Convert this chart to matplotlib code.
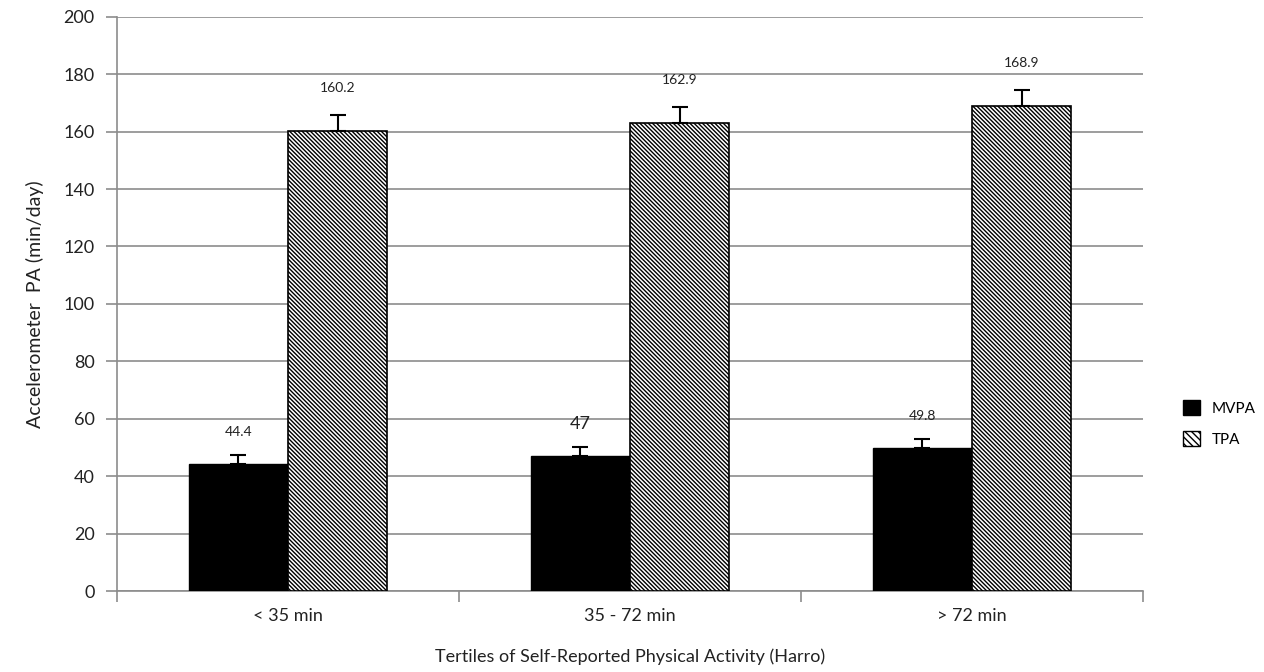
import numpy as np
from matplotlib import pyplot as plt
from matplotlib.patches import Patch

plt.rcParams['font.family'] = ['Lato', 'DejaVu Sans']
plt.rcParams['hatch.linewidth'] = 1.0

categories = ['< 35 min', '35 - 72 min', '> 72 min']
mvpa = [44.4, 47, 49.8]
tpa = [160.2, 162.9, 168.9]
mvpa_err = [3.0, 3.0, 3.0]
tpa_err = [5.7, 5.7, 5.5]
mvpa_labels = ['44.4', '47', '49.8']
tpa_labels = ['160.2', '162.9', '168.9']

fig = plt.figure(figsize=(12.64, 6.72), dpi=100)
ax = fig.add_axes([0.0926, 0.1205, 0.8116, 0.8545])

x = np.arange(len(categories))
w = 0.29
grey = '#8c8c8c'
txt = '#222222'
hatch = '\\' * 8

ax.bar(x - w / 2, mvpa, w, color='black', edgecolor='black', lw=1, zorder=3,
       yerr=[[0] * 3, mvpa_err], error_kw=dict(ecolor='black', capsize=6, lw=1.5, capthick=1.5))
ax.bar(x + w / 2, tpa, w, color='white', edgecolor='black', hatch=hatch, lw=1.2, zorder=3,
       yerr=[[0] * 3, tpa_err], error_kw=dict(ecolor='black', capsize=6, lw=1.5, capthick=1.5))

for i in range(len(categories)):
    fs = 13 if mvpa_labels[i] == '47' else 10
    ax.text(x[i] - w / 2, mvpa[i] + 11, mvpa_labels[i], ha='center', va='center', fontsize=fs, color=txt)
    ax.text(x[i] + w / 2, tpa[i] + 15, tpa_labels[i], ha='center', va='center', fontsize=10, color=txt)

ax.set_xlim(-0.5, 2.5)
ax.set_ylim(0, 200)
ax.set_yticks(range(0, 201, 20))
ax.set_xticks([-0.5, 0.5, 1.5, 2.5], minor=False)
ax.set_xticklabels([])
ax.set_xticks(x, minor=True)
ax.set_xticklabels(categories, minor=True, fontsize=13, color=txt)
ax.tick_params(axis='x', which='minor', length=0, pad=12)
ax.tick_params(axis='x', which='major', length=8, color=grey, width=1.2)
ax.tick_params(axis='y', length=8, color=grey, width=1.2, labelsize=13, labelcolor=txt, pad=8)

ax.grid(axis='y', color=grey, lw=1.2, zorder=0)
ax.set_axisbelow(True)
for s in ['top', 'right']:
    ax.spines[s].set_visible(False)
for s in ['left', 'bottom']:
    ax.spines[s].set_color(grey)
    ax.spines[s].set_linewidth(1.2)

ax.set_ylabel('Accelerometer  PA (min/day)', fontsize=14, color=txt, labelpad=14)
ax.set_xlabel('Tertiles of Self-Reported Physical Activity (Harro)', fontsize=13, color=txt, labelpad=18)

handles = [Patch(facecolor='black', edgecolor='black', label='MVPA'),
           Patch(facecolor='white', edgecolor='black', hatch='\\' * 5, label='TPA')]
fig.legend(handles=handles, loc='center left', bbox_to_anchor=(0.925, 0.37), frameon=False,
           fontsize=11, handlelength=1.1, handleheight=1.1, labelspacing=1.0)

fig.savefig('out.png', dpi=100)
